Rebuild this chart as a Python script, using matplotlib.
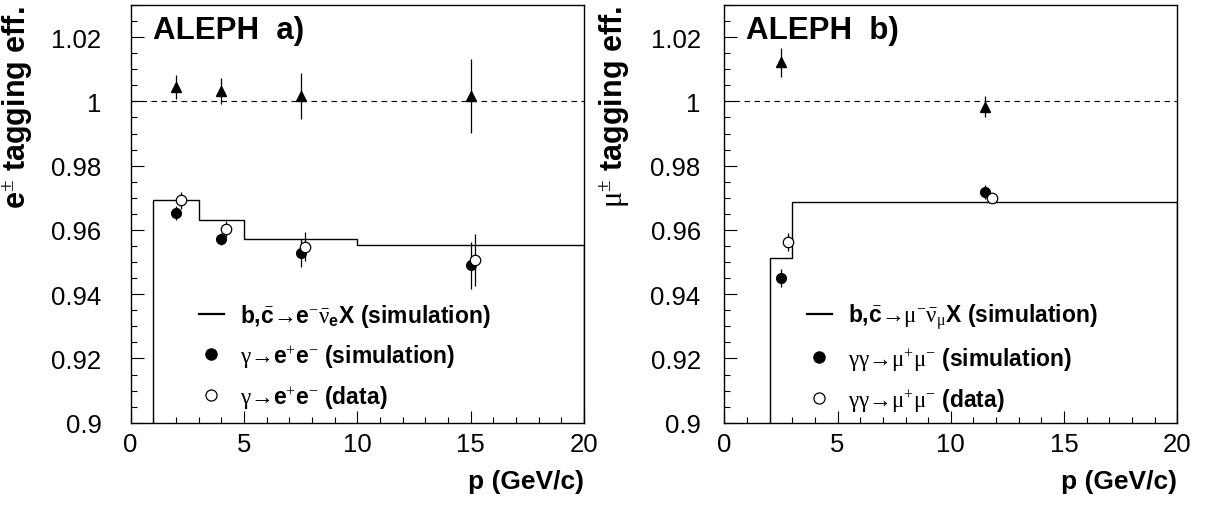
import numpy as np
import matplotlib
matplotlib.use("Agg")
from matplotlib import pyplot as plt
from matplotlib.lines import Line2D
from matplotlib.ticker import MultipleLocator, FuncFormatter

plt.rcParams['font.family'] = ['Liberation Sans', 'DejaVu Sans']
plt.rcParams['mathtext.fontset'] = 'custom'
plt.rcParams['mathtext.rm'] = 'Liberation Serif'
plt.rcParams['mathtext.it'] = 'Liberation Serif:italic'
plt.rcParams['mathtext.bf'] = 'Liberation Sans:bold'
plt.rcParams['mathtext.sf'] = 'Liberation Sans'

# pannello a) elettroni
p_rapp_a = [2, 4, 7.5, 15]
rapp_a = [1.0045, 1.0033, 1.0017, 1.0017]
err_rapp_a = [0.0038, 0.004, 0.0071, 0.0116]
p_sim_a = [2, 4, 7.5, 15]
sim_a = [0.9653, 0.9572, 0.9529, 0.9490]
err_sim_a = [0.0021, 0.002, 0.0043, 0.0073]
p_dati_a = [2.2, 4.2, 7.7, 15.2]
dati_a = [0.9692, 0.9603, 0.9548, 0.9506]
err_dati_a = [0.0026, 0.0025, 0.0046, 0.008]
bordi_a = [1, 3, 5, 10, 20]
isto_a = [0.9692, 0.9631, 0.9572, 0.9552]

# pannello b) muoni
p_rapp_b = [2.5, 11.5]
rapp_b = [1.0122, 0.9984]
err_rapp_b = [0.0045, 0.0033]
p_sim_b = [2.5, 11.5]
sim_b = [0.9451, 0.9719]
err_sim_b = [0.0028, 0.0022]
p_dati_b = [2.8, 11.8]
dati_b = [0.9563, 0.9698]
err_dati_b = [0.0027, 0.0014]
bordi_b = [2, 3, 20]
isto_b = [0.9512, 0.9688]

etichette_a = [r"b,$\bar{\mathbf{c}}$→$\mathbf{e}^{-}\bar{\mathrm{\nu}}_{\mathbf{e}}$X (simulation)",
               r"$\mathrm{\gamma}$→$\mathbf{e}^{+}\mathbf{e}^{-}$ (simulation)",
               r"$\mathrm{\gamma}$→$\mathbf{e}^{+}\mathbf{e}^{-}$ (data)"]
etichette_b = [r"b,$\bar{\mathbf{c}}$→$\mathrm{\mu}^{-}\bar{\mathrm{\nu}}_{\mathrm{\mu}}$X (simulation)",
               r"$\mathrm{\gamma\gamma}$→$\mathrm{\mu}^{+}\mathrm{\mu}^{-}$ (simulation)",
               r"$\mathrm{\gamma\gamma}$→$\mathrm{\mu}^{+}\mathrm{\mu}^{-}$ (data)"]

fig = plt.figure(figsize=(12.11, 5.06), dpi=100)
ax_a = fig.add_axes([0.1079, 0.1626, 0.3743, 0.8255])
ax_b = fig.add_axes([0.5981, 0.1626, 0.3741, 0.8255])


def disegna(ax, bordi, isto, p_r, r, er, p_s, s, es, p_d, d, ed, titolo, ylab, etichette, leg_x, pad_y, ylab_x):
    ax.stairs(isto, bordi, baseline=0.9, color="black", lw=1.0)
    ax.axhline(1.0, color="black", lw=0.8, dashes=(5, 4))
    ax.errorbar(p_r, r, yerr=er, fmt="^", color="black", ms=7, lw=0.9, capsize=0)
    ax.errorbar(p_s, s, yerr=es, fmt="o", color="black", ms=7, lw=0.9, capsize=0)
    ax.errorbar(p_d, d, yerr=ed, fmt="o", mfc="white", mec="black", color="black",
                ms=7.5, mew=0.9, lw=0.9, capsize=0)

    ax.set_xlim(0, 20)
    ax.set_ylim(0.9, 1.03)
    ax.xaxis.set_major_locator(MultipleLocator(5))
    ax.xaxis.set_minor_locator(MultipleLocator(1))
    ax.yaxis.set_major_locator(MultipleLocator(0.02))
    ax.yaxis.set_minor_locator(MultipleLocator(0.005))
    ax.yaxis.set_major_formatter(FuncFormatter(lambda v, pos: "%g" % round(v, 3)))
    ax.tick_params(which="both", direction="in", top=False, right=False, width=0.8)
    ax.tick_params(which="major", length=9, labelsize=18.5)
    ax.tick_params(which="minor", length=4.5)
    ax.tick_params(axis="y", pad=pad_y)
    ax.tick_params(axis="x", pad=7)
    for sp in ax.spines.values():
        sp.set_linewidth(1.0)

    ax.text(0.049, 0.975, titolo, transform=ax.transAxes, fontsize=22.5,
            fontweight="bold", ha="left", va="top")

    ax.set_ylabel(ylab, fontsize=22, fontweight="bold", loc="top")
    ax.yaxis.set_label_coords(ylab_x, 1.0)
    ax.set_xlabel("p (GeV/c)", fontsize=19, fontweight="bold", loc="right")
    ax.xaxis.set_label_coords(1.0, -0.11)

    maniglie = [Line2D([], [], color="black", lw=1.6),
                Line2D([], [], color="black", marker="o", ls="none", ms=8),
                Line2D([], [], color="black", marker="o", ls="none", ms=8, mfc="white", mew=0.9)]
    ax.legend(maniglie, etichette, loc="upper left", bbox_to_anchor=(leg_x, 0.29),
              frameon=False, prop={"weight": "bold", "size": 16.5}, handlelength=1.1,
              handletextpad=0.7, labelspacing=0.6, borderpad=0, borderaxespad=0)


disegna(ax_a, bordi_a, isto_a, p_rapp_a, rapp_a, err_rapp_a, p_sim_a, sim_a, err_sim_a,
        p_dati_a, dati_a, err_dati_a, "ALEPH  a)", r"$\mathbf{e}^{\pm}$ tagging eff.",
        etichette_a, 0.15, 21, -0.212)
disegna(ax_b, bordi_b, isto_b, p_rapp_b, rapp_b, err_rapp_b, p_sim_b, sim_b, err_sim_b,
        p_dati_b, dati_b, err_dati_b, "ALEPH  b)", r"$\mathrm{\mu}^{\pm}$ tagging eff.",
        etichette_b, 0.182, 17, -0.203)

fig.savefig("out.png", dpi=100)
